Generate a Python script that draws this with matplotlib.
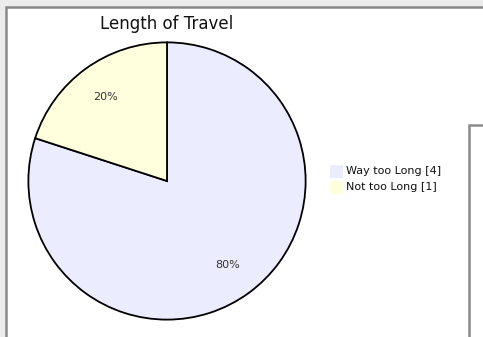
import matplotlib
matplotlib.use("Agg")
import matplotlib.pyplot as plt
from matplotlib.patches import Rectangle

# Pie data
labels = ["Way too Long", "Not too Long"]
counts = [4, 1]
colors = ["#ECECFF", "#FFFFDE"]
title = "Length of Travel"

W, H = 483, 337
fig = plt.figure(figsize=(W / 100, H / 100), dpi=100)
fig.patch.set_facecolor("#ececec")

def px(x, y):
    # pixel coords (top-left origin) to figure fraction
    return x / W, 1 - y / H

# main white panel and the box on the right (screenshot frame), behind the pie
x0, y0 = px(6, 7)
fig.patches.append(Rectangle((x0, -0.1), 1.2, y0 + 0.1, transform=fig.transFigure,
                             facecolor="white", edgecolor="#8a8a8a", linewidth=1.8, zorder=-2))
x1, y1 = px(469, 125)
fig.patches.append(Rectangle((x1, -0.1), 0.5, y1 + 0.1, transform=fig.transFigure,
                             facecolor="white", edgecolor="#8a8a8a", linewidth=1.8, zorder=-1))

# pie axes: centre (167, 181), radius 140 px
cx, cy, r = 167, 181, 140
ax = fig.add_axes([(cx - r) / W, (H - cy - r) / H, 2 * r / W, 2 * r / H])
wedges, texts, autotexts = ax.pie(counts, colors=colors, startangle=90, counterclock=False,
                                  autopct="%1.0f%%", pctdistance=0.75,
                                  wedgeprops=dict(edgecolor="black", linewidth=1.3),
                                  textprops=dict(fontsize=8, color="#333333"))
ax.set_xlim(-1.01, 1.01)
ax.set_ylim(-1.01, 1.01)
ax.set_aspect("equal")

tx, ty = px(167, 24)
fig.text(tx, ty, title, ha="center", va="center", fontsize=12, color="#111111")

# legend squares and labels
for i, (lab, n, c) in enumerate(zip(labels, counts, colors)):
    sx, sy = px(330, 178 + i * 16)
    fig.patches.append(Rectangle((sx, sy), 13 / W, 13 / H, transform=fig.transFigure,
                                 facecolor=c, edgecolor="none"))
    lx, ly = px(346, 171.5 + i * 16)
    fig.text(lx, ly, f"{lab} [{n}]", ha="left", va="center", fontsize=8, color="#111111")

fig.savefig("out.png", dpi=100)
